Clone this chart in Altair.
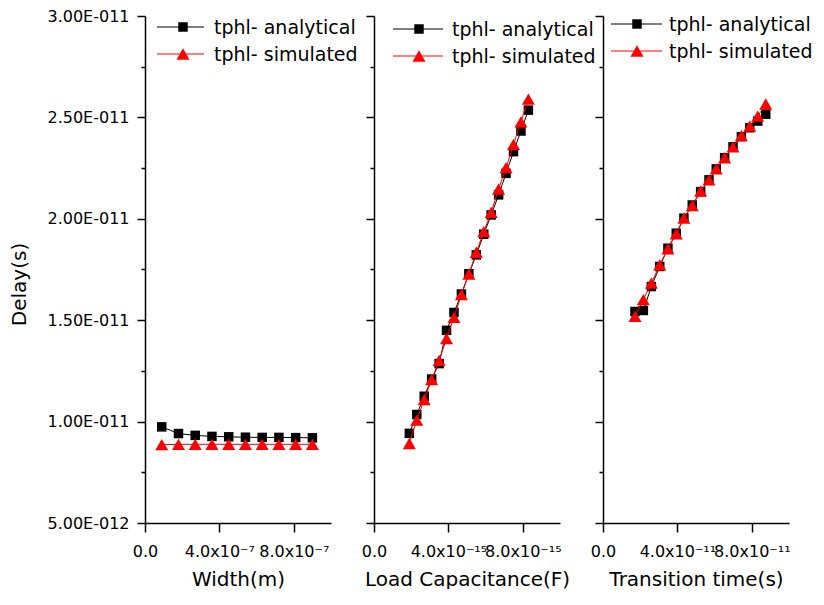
import altair as alt
import pandas as pd

# ---------------- data ----------------
series_names = ["tphl- analytical", "tphl- simulated"]
x_titles = ["Width(m)", "Load Capacitance(F)", "Transition time(s)"]
y_title = "Delay(s)"

width_x = [0.9e-7, 1.8e-7, 2.7e-7, 3.6e-7, 4.5e-7, 5.4e-7, 6.3e-7, 7.2e-7, 8.1e-7, 9.0e-7]
width_analytical = [9.74e-12, 9.41e-12, 9.32e-12, 9.27e-12, 9.25e-12, 9.23e-12, 9.22e-12, 9.22e-12, 9.21e-12, 9.20e-12]
width_simulated = [8.86e-12, 8.88e-12, 8.88e-12, 8.88e-12, 8.88e-12, 8.88e-12, 8.88e-12, 8.88e-12, 8.88e-12, 8.88e-12]

cap_x = [1.9e-15, 2.3e-15, 2.7e-15, 3.1e-15, 3.5e-15, 3.9e-15, 4.3e-15, 4.7e-15, 5.1e-15,
         5.5e-15, 5.9e-15, 6.3e-15, 6.7e-15, 7.1e-15, 7.5e-15, 7.9e-15, 8.3e-15]
cap_analytical = [9.42e-12, 1.035e-11, 1.125e-11, 1.210e-11, 1.286e-11, 1.450e-11, 1.538e-11, 1.629e-11, 1.729e-11,
                  1.822e-11, 1.924e-11, 2.019e-11, 2.118e-11, 2.224e-11, 2.331e-11, 2.433e-11, 2.536e-11]
cap_simulated = [8.92e-12, 1.007e-11, 1.109e-11, 1.207e-11, 1.302e-11, 1.409e-11, 1.514e-11, 1.626e-11, 1.727e-11,
                 1.835e-11, 1.937e-11, 2.032e-11, 2.147e-11, 2.252e-11, 2.367e-11, 2.478e-11, 2.590e-11]

trans_x = [1.72e-11, 2.17e-11, 2.60e-11, 3.05e-11, 3.49e-11, 3.94e-11, 4.35e-11, 4.80e-11, 5.25e-11,
           5.70e-11, 6.09e-11, 6.54e-11, 6.99e-11, 7.44e-11, 7.89e-11, 8.32e-11, 8.75e-11]
trans_analytical = [1.543e-11, 1.548e-11, 1.666e-11, 1.765e-11, 1.855e-11, 1.929e-11, 2.003e-11, 2.068e-11, 2.134e-11,
                    2.192e-11, 2.246e-11, 2.301e-11, 2.355e-11, 2.405e-11, 2.449e-11, 2.482e-11, 2.516e-11]
trans_simulated = [1.519e-11, 1.601e-11, 1.683e-11, 1.773e-11, 1.852e-11, 1.926e-11, 2.003e-11, 2.065e-11, 2.137e-11,
                   2.192e-11, 2.246e-11, 2.301e-11, 2.355e-11, 2.410e-11, 2.457e-11, 2.506e-11, 2.566e-11]

y_domain = [5e-12, 3e-11]
y_major_values = [5e-12, 1e-11, 1.5e-11, 2e-11, 2.5e-11, 3e-11]
y_major_labels = ["5.00E-012", "1.00E-011", "1.50E-011", "2.00E-011", "2.50E-011", "3.00E-011"]
y_minor_values = [7.5e-12, 1.25e-11, 1.75e-11, 2.25e-11, 2.75e-11]

x_domains = [[0, 1e-6], [0, 1e-14], [0, 1e-10]]
x_major_values = [[0, 4e-7, 8e-7], [0, 4e-15, 8e-15], [0, 4e-11, 8e-11]]
x_major_labels = [["0.0", "4.0x10\u207b\u2077", "8.0x10\u207b\u2077"],
                  ["0.0", "4.0x10\u207b\u00b9\u2075", "8.0x10\u207b\u00b9\u2075"],
                  ["0.0", "4.0x10\u207b\u00b9\u00b9", "8.0x10\u207b\u00b9\u00b9"]]
x_minor_values = [[2e-7, 6e-7, 1e-6], [2e-15, 6e-15, 1e-14], [2e-11, 6e-11, 1e-10]]

# legend placement inside each panel (pixels relative to the plot area)
legend_layout = [
    dict(x1=12, x2=59, xm=38, xt=69, y=[11, 38]),
    dict(x1=19, x2=69, xm=45, xt=78, y=[13, 40]),
    dict(x1=8, x2=59, xm=34, xt=66, y=[8, 35]),
]

FONT = "DejaVu Sans"
PW, PH = 186, 507


def label_expr(values, labels, tol):
    expr = "''"
    for v, lab in reversed(list(zip(values, labels))):
        expr = f"abs(datum.value - ({v!r})) < {tol!r} ? '{lab}' : " + expr
    return expr


def major_test(values, tol):
    return " || ".join(f"abs(datum.value - ({v!r})) < {tol!r}" for v in values)


def panel(i, xs, a_vals, s_vals, show_y):
    xtol = x_domains[i][1] * 1e-4
    ytol = 1e-15
    x_axis = alt.Axis(
        values=x_major_values[i] + x_minor_values[i],
        labelExpr=label_expr(x_major_values[i], x_major_labels[i], xtol),
        tickSize={"condition": {"test": major_test(x_major_values[i], xtol), "value": 9}, "value": 5},
        labelFlush=False, labelOverlap=False, labelPadding=11,
        title=x_titles[i], titlePadding=10,
    )
    y_ticks = {"condition": {"test": major_test(y_major_values, ytol), "value": 8}, "value": 4}
    if show_y:
        y_axis = alt.Axis(
            values=y_major_values + y_minor_values,
            labelExpr=label_expr(y_major_values, y_major_labels, ytol),
            tickSize=y_ticks, labelOverlap=False, labelPadding=8,
            title=y_title, titleX=-126, titleY=268, titleAngle=270,
            titleAlign="center", titleBaseline="middle",
        )
    else:
        y_axis = alt.Axis(values=y_major_values + y_minor_values, labels=False,
                          tickSize=y_ticks, title=None)

    x_enc = alt.X("x:Q", scale=alt.Scale(domain=x_domains[i], nice=False, zero=False), axis=x_axis)
    y_enc = alt.Y("y:Q", scale=alt.Scale(domain=y_domain, nice=False, zero=False), axis=y_axis)

    df_a = pd.DataFrame({"x": xs, "y": a_vals})
    df_s = pd.DataFrame({"x": xs, "y": s_vals})

    line_a = alt.Chart(df_a).mark_line(color="black", strokeWidth=1).encode(x=x_enc, y=y_enc)
    pts_a = alt.Chart(df_a).mark_point(shape="square", filled=True, size=90, color="black",
                                       opacity=1).encode(x="x:Q", y="y:Q")
    line_s = alt.Chart(df_s).mark_line(color="#ff0000", strokeWidth=1).encode(x="x:Q", y="y:Q")
    pts_s = alt.Chart(df_s).mark_point(shape="triangle-up", filled=True, size=170, color="#ff0000",
                                       opacity=1).encode(x="x:Q", y="y:Q")

    lay = legend_layout[i]
    leg = []
    styles = [("black", "square", 90), ("#ff0000", "triangle-up", 170)]
    for k, (col, shp, sz) in enumerate(styles):
        ldf = pd.DataFrame({"label": [series_names[k]]})
        yv = lay["y"][k]
        leg.append(alt.Chart(ldf).mark_rule(color=col, strokeWidth=1).encode(
            x=alt.value(lay["x1"]), x2=alt.value(lay["x2"]), y=alt.value(yv)))
        leg.append(alt.Chart(ldf).mark_point(shape=shp, filled=True, size=sz, color=col, opacity=1).encode(
            x=alt.value(lay["xm"]), y=alt.value(yv)))
        leg.append(alt.Chart(ldf).mark_text(align="left", baseline="middle", font=FONT, fontSize=19,
                                            color="black").encode(
            x=alt.value(lay["xt"]), y=alt.value(yv + 1), text="label:N"))

    return alt.layer(line_a, pts_a, line_s, pts_s, *leg).properties(width=PW, height=PH)


p1 = panel(0, width_x, width_analytical, width_simulated, True)
p2 = panel(1, cap_x, cap_analytical, cap_simulated, False)
p3 = panel(2, trans_x, trans_analytical, trans_simulated, False)

chart = (
    alt.hconcat(p1, p2, p3, spacing=43, bounds="flush")
    .properties(padding={"left": 1, "top": 0, "right": 0, "bottom": 0}, background="white")
    .configure_view(stroke=None)
    .configure_axis(
        domainColor="black", domainWidth=1.5, tickColor="black", tickWidth=1.5,
        labelFont=FONT, labelFontSize=16, labelColor="black",
        titleFont=FONT, titleFontSize=20, titleFontWeight="normal", titleColor="black",
        grid=False,
    )
)

chart.save("out.html", embed_options={"renderer": "svg", "actions": False})
